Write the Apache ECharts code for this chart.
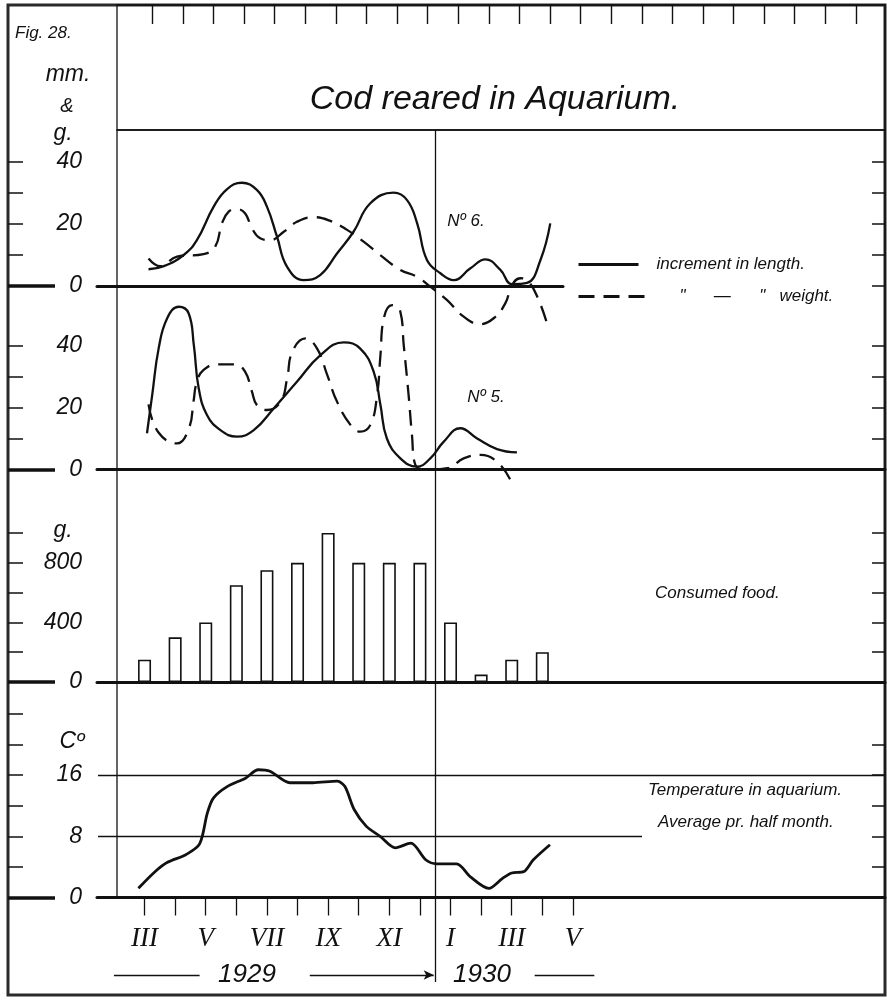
<!DOCTYPE html>
<html><head><meta charset="utf-8">
<script src="https://cdn.jsdelivr.net/npm/echarts@6/dist/echarts.min.js"></script>
<style>html,body{margin:0;padding:0;background:#fff}#c{width:887px;height:1001px}</style>
</head><body><div id="c"></div>
<script>
// ---------------- data ----------------
// x values are month indices: 0 = March 1929 ... 14 = May 1930
const monthNames = ['III','IV','V','VI','VII','VIII','IX','X','XI','XII','I','II','III','IV','V'];
const monthTicks = [0,1,2,3,4,5,6,7,8,9,10,11,12,13,14];
const monthLabelTicks = [0,2,4,6,8,10,12,14];
const topTicks = [0.25,1.25,2.25,3.25,4.25,5.25,6.25,7.25,8.25,9.25,10.25,11.25,12.25,13.25,14.25,15.25,16.25,17.25,18.25,19.25,20.25,21.25,22.25,23.25];
const yearBoundary = 9.5;

// No. 6 — increment in length (mm) / weight (g)
const no6Length = [[0.13,5.4],[0.63,6.4],[1.28,10],[1.71,14.8],[2.26,25.6],[2.69,31.2],[3.18,33.3],[3.67,31],[4.0,25.6],[4.33,15.9],[4.66,6.2],[5.2,1.9],[5.74,3.5],[6.29,10.5],[6.83,17.5],[7.38,26.7],[8.14,30.1],[8.58,27.7],[8.91,20.2],[9.23,8.4],[9.67,4.1],[10.1,1.9],[10.65,5.7],[11.14,8.6],[11.63,5.2],[12.01,0.6],[12.5,1.0],[12.94,8.4],[13.26,20.2]];
const no6Weight = [[0.13,8.9],[0.52,6.4],[1.06,9.5],[1.93,10.3],[2.31,12.7],[2.53,20.2],[2.75,24],[3.02,24.8],[3.29,23.4],[3.51,18.6],[3.78,15.4],[4.11,14.8],[4.55,17.5],[4.98,20.7],[5.53,22.2],[6.07,21],[6.62,18.1],[7.16,14.3],[7.7,10],[8.36,5.2],[8.9,3],[9.34,-0.2],[9.88,-4.5],[10.43,-9.9],[10.97,-12.3],[11.41,-10.4],[11.79,-5.6],[12.01,0.3],[12.28,2.5],[12.55,1.4],[12.88,-4.5],[13.15,-12]];

// No. 5 — increment in length (mm) / weight (g)
const no5Length = [[0.08,11.7],[0.25,24],[0.46,39],[0.74,48.8],[1.12,52.5],[1.44,50.4],[1.61,40.2],[1.77,26.2],[2.04,17.6],[2.48,12.7],[3.02,10.6],[3.57,12.7],[4.22,19.7],[4.98,28.3],[5.75,36.9],[6.51,41],[7.05,39],[7.49,31.5],[7.71,20.8],[7.92,10],[8.36,3.6],[8.9,0.9],[9.34,3.6],[9.78,9],[10.32,13.3],[10.87,10],[11.52,6.6],[12.17,5.5]];
const no5Weight = [[0.13,21],[0.45,12],[1.06,8.4],[1.45,13.3],[1.6,21.9],[1.71,28.3],[1.93,32.1],[2.37,33.9],[2.97,33.9],[3.29,31.5],[3.51,25.1],[3.67,20.8],[4.0,19.2],[4.45,21.9],[4.66,29.4],[4.83,38],[5.26,42.3],[5.64,39],[5.97,30.5],[6.29,21.9],[6.73,14.4],[7.05,12.2],[7.38,14.4],[7.6,24],[7.71,36.9],[7.82,48.8],[8.09,53],[8.36,50.9],[8.47,40.2],[8.63,24],[8.74,11.1],[8.85,1.5],[9.3,0],[9.9,0.4],[10.43,3.6],[10.98,4.7],[11.52,2.5],[11.96,-3.4]];

// Consumed food (g) per month
const foodMonths = [0,1,2,3,4,5,6,7,8,9,10,11,12,13];
const foodGrams  = [150,300,400,650,750,800,1000,800,800,800,400,50,150,200];

// Temperature in aquarium (°C), average per half month
const tempHalfMonth = [[-0.2,1.2],[0.35,3.4],[0.75,4.6],[1.35,5.6],[1.8,7.0],[2.05,11.0],[2.25,13.0],[2.7,14.5],[3.3,15.6],[3.72,16.7],[4.1,16.5],[4.75,15.0],[5.5,15.0],[6.3,15.2],[6.55,14.5],[6.85,11.5],[7.25,9.3],[7.7,8.0],[8.2,6.5],[8.7,7.1],[9.2,4.9],[9.55,4.4],[10.2,4.4],[10.65,2.7],[11.25,1.2],[11.7,2.5],[12.0,3.2],[12.4,3.4],[12.7,4.9],[13.25,6.9]];

// axis ticks / labels
const ticks6 = [10,20,30,40], labels6 = [0,20,40], rticks6 = [0,10,20,30,40];
const ticks5 = [10,20,30,40], labels5 = [0,20,40], rticks5 = [10,20,30,40];
const ticksF = [200,400,600,800,1000], labelsF = [0,400,800], rticksF = [200,400,600,800,1000];
const ticksT = [4,8,12,16,20,24], labelsT = [0,8,16], rticksT = [4,8,12,16,20];

// ---------------- layout ----------------
const W = 887, H = 1001, INK = '#111';
const X0 = 144.54, PX = 30.598;          // pixel of month 0, pixels per month
const xv = px => (px - X0) / PX;
const LEFT = 97;
const FONT = 'Liberation Sans';

const panels = [
  {zero:286,   ppu:3.1,   min:-30, max:50,   rightPx:563, ticks:ticks6, labels:labels6, rticks:rticks6},
  {zero:469.5, ppu:3.1,   min:-20, max:60,   rightPx:885, ticks:ticks5, labels:labels5, rticks:rticks5},
  {zero:682,   ppu:0.149, min:0,   max:1200, rightPx:885, ticks:ticksF, labels:labelsF, rticks:rticksF},
  {zero:897.5, ppu:7.65,  min:0,   max:24,   rightPx:885, ticks:ticksT, labels:labelsT, rticks:rticksT}
];

const grids = [
  {left:8, top:5, right:W-885, bottom:H-995, show:true, borderColor:'#2a2a2a', borderWidth:3, backgroundColor:'transparent'},
  {left:117, top:5, right:W-885, height:125, show:true, borderColor:INK, borderWidth:1.3, backgroundColor:'transparent'},
  {left:117, top:130, right:W-885, bottom:H-897.5, show:true, borderColor:INK, borderWidth:1.3, backgroundColor:'transparent'}
];
panels.forEach(p => grids.push({left:LEFT, right:W-p.rightPx, top:p.zero - p.max*p.ppu, height:(p.max-p.min)*p.ppu}));
grids.push({left:LEFT, right:W-885, top:130, bottom:H-995});
grids.forEach(g => { g.outerBoundsMode = 'none'; g.containLabel = false; });

const hidden = (gi, min, max) => ({gridIndex:gi, type:'value', show:false, min, max});

const xAxes = [
  {gridIndex:0, type:'value', min:xv(8), max:xv(885), position:'top',
   axisLine:{show:false, onZero:false}, axisLabel:{show:false}, splitLine:{show:false},
   axisTick:{show:true, inside:true, length:19, customValues:topTicks, lineStyle:{color:INK, width:1.4}}},
  hidden(1,0,1), hidden(2,0,1)
];
panels.forEach((p, k) => {
  const ax = {gridIndex:3+k, type:'value', min:xv(LEFT), max:xv(p.rightPx),
    axisLine:{show:true, onZero:true, lineStyle:{color:INK, width:3}},
    axisTick:{show:false}, axisLabel:{show:false}, splitLine:{show:false}};
  if (k === 3) {
    ax.axisTick = {show:true, length:18, customValues:monthTicks, lineStyle:{color:INK, width:1.3}};
    ax.axisLabel = {show:true, customValues:monthLabelTicks, margin:28,
      formatter: v => monthNames[Math.round(v)],
      color:INK, fontFamily:'Liberation Serif', fontStyle:'italic', fontSize:27};
  }
  xAxes.push(ax);
});
xAxes.push(hidden(7, xv(LEFT), xv(885)));

const yAxes = [hidden(0,0,1), hidden(1,0,1), hidden(2,0,1)];
panels.forEach((p, k) => {
  const gi = 3 + k, base = {gridIndex:gi, type:'value', min:p.min, max:p.max, splitLine:{show:false}};
  yAxes.push(Object.assign({}, base, {position:'left', offset:LEFT-90,
    axisLine:{show:false}, axisTick:{show:false},
    axisLabel:{show:true, customValues:p.labels, margin:8, color:INK, fontFamily:FONT, fontStyle:'italic', fontSize:23}}));
  yAxes.push(Object.assign({}, base, {position:'left', offset:LEFT-8,
    axisLine:{show:false}, axisLabel:{show:false},
    axisTick:{show:true, inside:true, length:15, customValues:p.ticks, lineStyle:{color:INK, width:1.5}}}));
  yAxes.push(Object.assign({}, base, {position:'left', offset:LEFT-8,
    axisLine:{show:false}, axisLabel:{show:false},
    axisTick:{show:true, inside:true, length:47, customValues:[0], lineStyle:{color:INK, width:3.5}}}));
  yAxes.push(Object.assign({}, base, {position:'right', offset:885-p.rightPx,
    axisLine:{show:false}, axisLabel:{show:false},
    axisTick:{show:true, inside:true, length:13, customValues:p.rticks, lineStyle:{color:INK, width:1.5}}}));
});
yAxes.push(hidden(7, 0, 865));   // decoration band: value = 995 - pixel y

const DASH = [16, 9];
const curve = (name, data, xi, yi, dashed) => ({
  name, type:'line', data, xAxisIndex:xi, yAxisIndex:yi, smooth:0.45, symbol:'none',
  lineStyle:{color:INK, width:2.3, type: dashed ? DASH : 'solid'}, itemStyle:{color:INK}, z:5
});

const series = [
  curve('increment in length.', no6Length, 3, 3, false),
  curve('increment in weight.', no6Weight, 3, 3, true),
  curve('increment in length.', no5Length, 4, 7, false),
  curve('increment in weight.', no5Weight, 4, 7, true),
  {name:'Consumed food.', type:'bar', xAxisIndex:5, yAxisIndex:11, barWidth:13,
   data: foodMonths.map((m, i) => [m, foodGrams[i]]),
   itemStyle:{color:'#fff', borderColor:INK, borderWidth:1.6}},
  {name:'Temperature in aquarium.', type:'line', xAxisIndex:6, yAxisIndex:15, data:tempHalfMonth,
   smooth:0.3, symbol:'none', lineStyle:{color:INK, width:2.8}, z:5,
   markLine:{silent:true, symbol:['none','none'], label:{show:false},
     lineStyle:{color:INK, width:1.3, type:'solid'},
     data:[ [{coord:[xv(98),16]},{coord:[xv(884),16]}],
            [{coord:[xv(98),8]},{coord:[xv(642),8]}] ]}},
  {name:'decor', type:'line', xAxisIndex:7, yAxisIndex:19, data:[],
   markLine:{silent:true, symbol:['none','none'], label:{show:false},
     lineStyle:{color:INK, width:1.3, type:'solid'},
     data:[ [{coord:[yearBoundary,865]},{coord:[yearBoundary,13]}],
            [{coord:[-1,20]},{coord:[1.8,20]}],
            [{coord:[5.4,20]},{coord:[yearBoundary-0.05,20], symbol:'arrow', symbolSize:[7,10]}],
            [{coord:[12.75,20]},{coord:[14.7,20]}] ]}}
];

const txt = (text, x, y, size, align, family) => ({type:'text', x, y, silent:true, z:10,
  style:{text, fill:INK, font:'italic ' + size + 'px "' + (family || FONT) + '"',
         textAlign:align || 'center', textVerticalAlign:'middle'}});

const legendText = {color:INK, fontFamily:FONT, fontStyle:'italic', fontSize:17};
const option = {
  animation:false,
  backgroundColor:'#fff',
  title:{text:'Cod reared in Aquarium.', left:490, top:95, textAlign:'center', textVerticalAlign:'middle',
    textStyle:{color:INK, fontFamily:FONT, fontStyle:'italic', fontWeight:'normal', fontSize:34}},
  legend:[
    {data:['increment in length.'], left:577, top:256, padding:0, orient:'vertical', itemWidth:60, itemHeight:14,
     itemStyle:{opacity:0}, lineStyle:{width:3}, selectedMode:false,
     textStyle:Object.assign({padding:[0,0,0,13]}, legendText)},
    {data:['increment in weight.'], left:577, top:288, padding:0, orient:'vertical', itemWidth:66, itemHeight:14,
     itemStyle:{opacity:0}, lineStyle:{width:3}, selectedMode:false, formatter: () => '"      —      "   weight.',
     textStyle:Object.assign({padding:[0,0,0,30]}, legendText)}
  ],
  grid:grids, xAxis:xAxes, yAxis:yAxes, series,
  graphic:[
    txt('Fig. 28.', 15, 33, 17, 'left'),
    txt('mm.', 68, 75, 23),
    txt('&', 67, 106, 20),
    txt('g.', 63, 134, 23),
    txt('g.', 63, 531, 23),
    txt('Cº', 72, 742, 23),
    txt('Nº 6.', 466, 221, 17),
    txt('Nº 5.', 486, 397, 17),
    txt('Consumed food.', 655, 593, 17, 'left'),
    txt('Temperature in aquarium.', 648, 790, 17, 'left'),
    txt('Average pr. half month.', 658, 822, 17, 'left'),
    txt('1929', 247, 975, 26),
    txt('1930', 482, 975, 26)
  ]
};

const chart = echarts.init(document.getElementById('c'), null, {renderer:'canvas', width:W, height:H});
chart.setOption(option);
</script></body></html>
